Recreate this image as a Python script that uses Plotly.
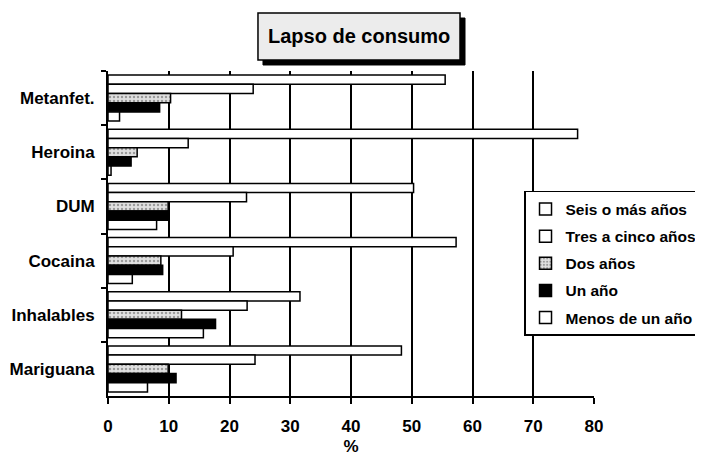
import plotly.graph_objects as go

categories = ["Metanfet.", "Heroina", "DUM", "Cocaina", "Inhalables", "Mariguana"]
series_names = ["Seis o más años", "Tres a cinco años", "Dos años", "Un año", "Menos de un año"]
seis = [55.5, 77.3, 50.3, 57.3, 31.6, 48.3]
tres = [23.9, 13.2, 22.8, 20.6, 22.9, 24.2]
dos = [10.3, 4.8, 9.9, 8.7, 12.1, 9.9]
un = [8.5, 3.8, 9.9, 9.0, 17.7, 11.2]
menos = [1.9, 0.5, 8.0, 4.0, 15.7, 6.5]
x_ticks = [0, 10, 20, 30, 40, 50, 60, 70, 80]

values = [seis, tres, dos, un, menos]
fills = ["white", "white", "#d8d8d8", "black", "white"]

FONT = "Liberation Sans, Arial, sans-serif"

fig = go.Figure()
for name, vals, fill in zip(series_names, values, fills):
    marker = dict(color=fill, line=dict(color="black", width=1.5))
    if name == "Dos años":
        marker["pattern"] = dict(shape=".", fgcolor="#555555", bgcolor="#e0e0e0", size=4, solidity=0.3)
    fig.add_trace(go.Bar(
        y=categories, x=vals, name=name, orientation="h", marker=marker,
        legendgroup=name,
    ))

# page has an 8px body margin, so the figure is sized/offset to compensate
fig.update_layout(
    width=695, height=448,
    margin=dict(l=100, r=109, t=63, b=60, autoexpand=False),
    paper_bgcolor="white", plot_bgcolor="white",
    barmode="group", bargap=0.15, bargroupgap=0,
    font=dict(family=FONT, size=16, color="black", weight="bold"),
    showlegend=True,
    legend=dict(
        x=0.856, y=0.631, xanchor="left", yanchor="top",
        bgcolor="white", bordercolor="black", borderwidth=1.5,
        font=dict(family=FONT, size=15.5, color="black", weight="bold"),
        traceorder="grouped", itemwidth=30, tracegroupgap=4,
    ),
    xaxis=dict(
        range=[0, 80], tickvals=x_ticks, ticktext=[str(v) for v in x_ticks],
        showgrid=True, gridcolor="black", gridwidth=2,
        showline=True, linecolor="black", linewidth=2,
        ticks="outside", ticklen=6, tickwidth=2, tickcolor="black",
        zeroline=False, ticklabelstandoff=8, automargin=False,
        tickfont=dict(size=17),
        title=dict(text="%", standoff=10, font=dict(size=17, weight="bold")),
    ),
    yaxis=dict(
        autorange="reversed", automargin=False,
        showgrid=False, showline=True, linecolor="black", linewidth=2,
        ticks="outside", ticklen=5, tickwidth=2, tickcolor="black",
        tickson="boundaries", ticklabelstandoff=8,
        tickfont=dict(size=17),
    ),
)

# title box with shadow
fig.add_shape(type="rect", xref="paper", yref="paper",
              x0=0.3189, x1=0.7346, y0=1.0185, y1=1.163,
              fillcolor="black", line=dict(color="black", width=1))
fig.add_shape(type="rect", xref="paper", yref="paper",
              x0=0.3086, x1=0.7243, y0=1.0338, y1=1.1785,
              fillcolor="#ececec", line=dict(color="black", width=1.5))
fig.add_annotation(text="Lapso de consumo", xref="paper", yref="paper",
                   x=0.5165, y=1.1062, showarrow=False, xanchor="center", yanchor="middle",
                   font=dict(family=FONT, size=20, color="black", weight="bold"))

fig.write_html("out.html")
